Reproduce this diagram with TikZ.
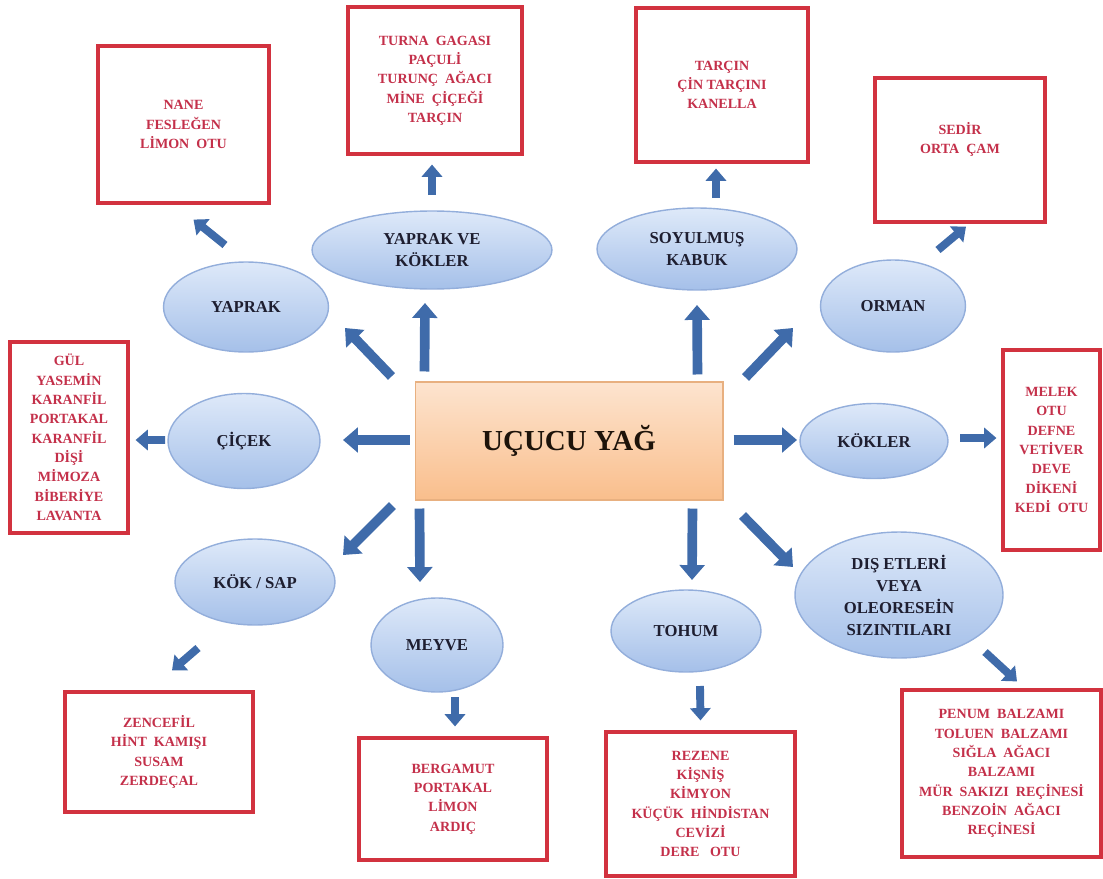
\documentclass[tikz,border=0pt]{standalone}
\usepackage{fontspec}
\setmainfont{Liberation Serif}
\usetikzlibrary{shapes, arrows.meta, positioning, calc}

\definecolor{ovaltop}{HTML}{DEE9F9}
\definecolor{ovalbot}{HTML}{A5C0E9}
\definecolor{ovalline}{HTML}{93AEDB}
\definecolor{ovaltext}{HTML}{1E1E30}
\definecolor{maintop}{HTML}{FDE4CF}
\definecolor{mainbot}{HTML}{F9BE8C}
\definecolor{mainline}{HTML}{E8B080}
\definecolor{boxred}{HTML}{D2323F}
\definecolor{boxtext}{HTML}{C4304A}
\definecolor{arrowblue}{HTML}{3F6BAA}

\tikzset{
  oval/.style={ellipse, draw=ovalline, line width=0.8pt, top color=ovaltop, bottom color=ovalbot,
    inner sep=0pt, align=center, text=ovaltext, font=\bfseries\fontsize{9.5}{12.5}\selectfont},
  listbox/.style={rectangle, draw=boxred, line width=1.8pt, fill=white, inner sep=0pt,
    align=center, text=boxtext, font=\bfseries\fontsize{8}{11}\selectfont},
  flow/.style={draw=arrowblue, line width=5.5pt, -{Triangle[length=8.5pt,width=14pt]}},
  subflow/.style={draw=arrowblue, line width=4.5pt, -{Triangle[length=7pt,width=11.5pt]}},
}

\begin{document}
\begin{tikzpicture}[x=0.02cm, y=-0.02cm]
    \useasboundingbox (0,0) rectangle (1103,879);

    % Central box
    \node[rectangle, draw=mainline, line width=0.6pt, top color=maintop, bottom color=mainbot,
      minimum width=6.16cm, minimum height=2.36cm, text=black!85!brown,
      font=\bfseries\fontsize{16.5}{20}\selectfont] (main) at (569,441) {UÇUCU YAĞ};

    % Ellipses
    \node[oval, minimum width=3.3cm, minimum height=1.8cm] (yaprak) at (246,307) {YAPRAK};
    \node[oval, minimum width=4.8cm, minimum height=1.56cm] (yvk) at (432,250) {YAPRAK VE\\KÖKLER};
    \node[oval, minimum width=4.0cm, minimum height=1.64cm] (soyul) at (697,249) {SOYULMUŞ\\KABUK};
    \node[oval, minimum width=2.9cm, minimum height=1.84cm] (orman) at (893,306) {ORMAN};
    \node[oval, minimum width=3.04cm, minimum height=1.9cm] (cicek) at (244,441) {ÇİÇEK};
    \node[oval, minimum width=2.96cm, minimum height=1.5cm] (kokler) at (874,441) {KÖKLER};
    \node[oval, minimum width=3.2cm, minimum height=1.72cm] (koksap) at (255,582) {KÖK / SAP};
    \node[oval, minimum width=2.64cm, minimum height=1.88cm] (meyve) at (437,645) {MEYVE};
    \node[oval, minimum width=3.0cm, minimum height=1.64cm] (tohum) at (686,631) {TOHUM};
    \node[oval, minimum width=4.16cm, minimum height=2.52cm] (dis) at (899,595)
      {DIŞ ETLERİ\\VEYA\\OLEORESEİN\\SIZINTILARI};

    % Plant lists
    \node[listbox, minimum width=3.42cm, minimum height=3.14cm] (nane) at (183.5,124.5)
      {NANE\\FESLEĞEN\\LİMON\ \ OTU};
    \node[listbox, minimum width=3.48cm, minimum height=2.94cm] (turna) at (435,80.5)
      {TURNA\ \ GAGASI\\PAÇULİ\\TURUNÇ\ \ AĞACI\\MİNE\ \ ÇİÇEĞİ\\TARÇIN};
    \node[listbox, minimum width=3.44cm, minimum height=3.08cm] (tarcin) at (722,85)
      {TARÇIN\\ÇİN TARÇINI\\KANELLA};
    \node[listbox, minimum width=3.4cm, minimum height=2.88cm] (sedir) at (960,150)
      {SEDİR\\ORTA\ \ ÇAM\\[3pt]};
    \node[listbox, minimum width=2.36cm, minimum height=3.82cm] (gul) at (69,437.5)
      {GÜL\\YASEMİN\\KARANFİL\\PORTAKAL\\KARANFİL\\DİŞİ\\MİMOZA\\BİBERİYE\\LAVANTA};
    \node[listbox, minimum width=1.94cm, minimum height=4.0cm] (melek) at (1051.5,450)
      {MELEK\\OTU\\DEFNE\\VETİVER\\DEVE\\DİKENİ\\KEDİ\ \ OTU};
    \node[listbox, minimum width=3.76cm, minimum height=2.4cm] (zencefil) at (159,752)
      {ZENCEFİL\\HİNT\ \ KAMIŞI\\SUSAM\\ZERDEÇAL};
    \node[listbox, minimum width=3.76cm, minimum height=2.44cm] (bergamut) at (453,799)
      {BERGAMUT\\PORTAKAL\\LİMON\\ARDIÇ};
    \node[listbox, minimum width=3.78cm, minimum height=2.88cm] (rezene) at (700.5,804)
      {REZENE\\KİŞNİŞ\\KİMYON\\KÜÇÜK\ \ HİNDİSTAN\\CEVİZİ\\DERE\ \ \ OTU};
    \node[listbox, minimum width=3.98cm, minimum height=3.34cm] (penum) at (1001.5,773.5)
      {PENUM\ \ BALZAMI\\TOLUEN\ \ BALZAMI\\SIĞLA\ \ AĞACI\\BALZAMI\\MÜR\ \ SAKIZI\ \ REÇİNESİ\\BENZOİN\ \ AĞACI\\REÇİNESİ};

    % Arrows from the central box
    \draw[flow] ([shift={(-23,-5)}]main.north west) -- ([shift={(99,21)}]yaprak.center);
    \draw[flow] ([shift={(10,-10)}]main.north west) -- ([shift={(-7,53)}]yvk.center);
    \draw[flow] ([shift={(-26,-7)}]main.north east) -- ([shift={(0,56)}]soyul.center);
    \draw[flow] ([shift={(22,-4)}]main.north east) -- ([shift={(-100,22)}]orman.center);
    \draw[flow] ([shift={(-5,-1)}]main.west) -- ([shift={(99,-1)}]cicek.center);
    \draw[flow] ([shift={(10,-1)}]main.east) -- ([shift={(-77,-1)}]kokler.center);
    \draw[flow] ([shift={(-22,5)}]main.south west) -- ([shift={(88,-27)}]koksap.center);
    \draw[flow] ([shift={(5,8)}]main.south west) -- ([shift={(-17,-63)}]meyve.center);
    \draw[flow] ([shift={(-31,8)}]main.south east) -- ([shift={(6,-51)}]tohum.center);
    \draw[flow] ([shift={(19,15)}]main.south east) -- ([shift={(-106,-28)}]dis.center);

    % Arrows to the plant lists
    \draw[subflow] ([shift={(-21,-62)}]yaprak.center) -- ([shift={(10,15)}]nane.south);
    \draw[subflow] ([shift={(0,-55)}]yvk.center) -- ([shift={(-3,9)}]turna.south);
    \draw[subflow] ([shift={(19,-51)}]soyul.center) -- ([shift={(-6,5)}]tarcin.south);
    \draw[subflow] ([shift={(45,-56)}]orman.center) -- ([shift={(6,3)}]sedir.south);
    \draw[subflow] ([shift={(-79,-1)}]cicek.center) -- ([shift={(6,2.5)}]gul.east);
    \draw[subflow] ([shift={(86,-3)}]kokler.center) -- ([shift={(-5,-12)}]melek.west);
    \draw[subflow] ([shift={(-57,66)}]koksap.center) -- ([shift={(13,-20)}]zencefil.north);
    \draw[subflow] ([shift={(18,52)}]meyve.center) -- ([shift={(2,-10)}]bergamut.north);
    \draw[subflow] ([shift={(14,55)}]tohum.center) -- ([shift={(0,-10)}]rezene.north);
    \draw[subflow] ([shift={(86,57)}]dis.center) -- ([shift={(15.5,-7)}]penum.north);
\end{tikzpicture}
\end{document}
